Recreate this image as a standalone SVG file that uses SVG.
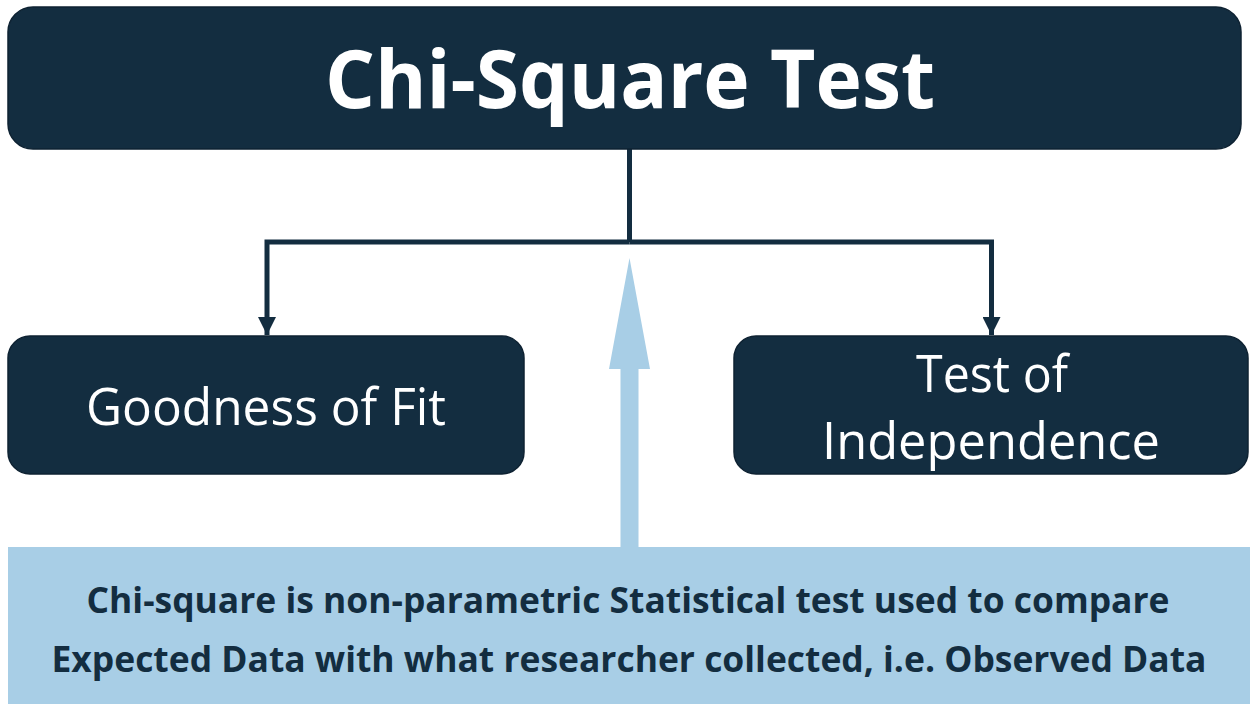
<svg xmlns="http://www.w3.org/2000/svg" width="1250" height="704" viewBox="0 0 1250 704">
<style>
.node{fill:#132d40;stroke:#0e2232;stroke-width:1.5}
.wt{fill:#ffffff;font-family:"Open Sans","Liberation Sans",sans-serif;text-anchor:middle}
.bt{fill:#132d40;font-family:"Open Sans","Liberation Sans",sans-serif;font-weight:bold;text-anchor:middle;font-size:36px}
.conn{fill:none;stroke:#132d40;stroke-width:5}
</style>
<defs>
<marker id="ah" markerUnits="userSpaceOnUse" markerWidth="20" markerHeight="18" refX="18" refY="9" orient="auto">
<path d="M0,0 L18,9 L0,18 Z" fill="#132d40"/>
</marker>
</defs>
<rect width="1250" height="704" fill="#ffffff"/>
<g id="note">
<rect x="8" y="547" width="1242" height="157" fill="#a8cee6"/>
<text class="bt" x="628" y="613" textLength="1083" lengthAdjust="spacingAndGlyphs">Chi-square is non-parametric Statistical test used to compare</text>
<text class="bt" x="629" y="672" textLength="1155" lengthAdjust="spacingAndGlyphs">Expected Data with what researcher collected, i.e. Observed Data</text>
</g>
<g id="blue-arrow">
<path d="M620.5,548 L620.5,369 L609,369 L629.5,258 L650,369 L638.5,369 L638.5,548 Z" fill="#a8cee6"/>
</g>
<g id="connectors">
<path class="conn" d="M629.5,149 L629.5,242"/>
<path class="conn" d="M629.5,242 L267,242 L267,335" marker-end="url(#ah)"/>
<path class="conn" d="M629.5,242 L991.5,242 L991.5,335" marker-end="url(#ah)"/>
</g>
<g id="chi-square-test">
<rect class="node" x="8" y="7" width="1233" height="142" rx="25"/>
<text class="wt" x="630" y="108" font-size="80" font-weight="bold" textLength="610" lengthAdjust="spacingAndGlyphs">Chi-Square Test</text>
</g>
<g id="goodness-of-fit">
<rect class="node" x="8" y="336" width="516" height="138" rx="22"/>
<text class="wt" x="266" y="425" font-size="52" textLength="360" lengthAdjust="spacingAndGlyphs">Goodness of Fit</text>
</g>
<g id="test-of-independence">
<rect class="node" x="734" y="336" width="514" height="138" rx="22"/>
<text class="wt" x="992" y="392" font-size="52" textLength="152" lengthAdjust="spacingAndGlyphs">Test of</text>
<text class="wt" x="991" y="459" font-size="52" textLength="338" lengthAdjust="spacingAndGlyphs">Independence</text>
</g>
</svg>
